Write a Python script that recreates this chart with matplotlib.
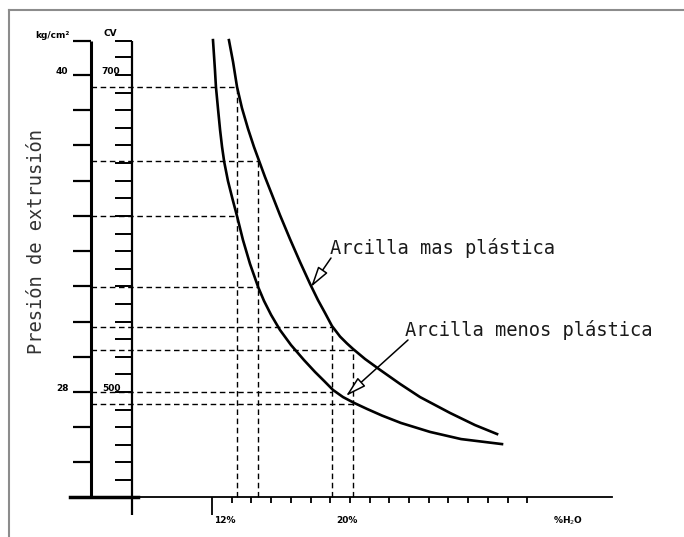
import numpy as np
import matplotlib
matplotlib.use("Agg")
import matplotlib.pyplot as plt
from matplotlib.lines import Line2D

# humidity (% H2O) and extrusion pressure (kg/cm2)
menos_x = [12.05, 12.10, 12.15, 12.20, 12.31, 12.41, 12.51, 12.62, 12.81, 13.04,
           13.27, 13.57, 13.93, 14.34, 14.64, 15.00, 15.45, 16.01, 16.67, 17.23,
           17.69, 18.14, 18.65, 19.21, 19.87, 20.63, 21.59, 23.07, 24.64, 26.72]
menos_y = [41.32, 40.76, 40.19, 39.55, 38.68, 37.92, 37.28, 36.71, 35.99, 35.31,
           34.66, 33.76, 32.85, 31.98, 31.45, 30.92, 30.35, 29.78, 29.21, 28.76,
           28.42, 28.08, 27.81, 27.59, 27.36, 27.11, 26.83, 26.49, 26.22, 26.03]

mas_x = [12.86, 13.07, 13.27, 13.52, 13.83, 14.13, 14.39, 14.69, 15.05, 15.45,
         15.96, 16.47, 16.98, 17.38, 17.74, 18.09, 18.50, 18.85, 19.16, 19.77,
         20.53, 21.54, 22.56, 24.08, 25.35, 26.47]
mas_y = [41.32, 40.49, 39.55, 38.75, 37.96, 37.28, 36.75, 36.14, 35.46, 34.70,
         33.79, 32.92, 32.09, 31.48, 30.99, 30.50, 30.10, 29.84, 29.63, 29.25,
         28.84, 28.31, 27.81, 27.21, 26.75, 26.41]

# dashed reading lines
guide_x = [13.27, 14.36, 18.09, 19.15]
guide_mas = [39.55, 36.76, 30.48, 29.61]
guide_menos = [34.66, 31.98, 28.00, 27.55]

kg_labels = {40: "40", 28: "28"}
cv_labels = {40: "700", 28: "500"}
x_labels = ["12%", "20%", "%H$_2$O"]

# pixel -> data mapping of the drawing
W, H = 684, 537
PX_X0, X0, PX_PCT = 212, 12, 19.7
PX_Y0, Y0, PX_KG = 75, 40, 26.42
def dx(px): return X0 + (px - PX_X0) / PX_PCT
def dy(py): return Y0 - (py - PX_Y0) / PX_KG

fig = plt.figure(figsize=(W / 100, H / 100), dpi=100)
ax = fig.add_axes([0, 0, 1, 1])
ax.set_xlim(dx(0), dx(W))
ax.set_ylim(dy(H), dy(0))
ax.axis("off")

mono = "DejaVu Sans Mono"
ink = "#1a1a1a"
ybot = dy(497)
ytop = dy(41)
kg_x, cv_x = dx(91), dx(132)

# kg/cm2 axis
ax.plot([kg_x, kg_x], [ybot, ytop], color="k", lw=2.2, solid_capstyle="butt")
kg_ticks = 24 + np.arange(1, 13) * 4 / 3
ax.hlines(list(kg_ticks) + [ytop], dx(73), kg_x, color="k", lw=1.6)
# CV axis
ax.plot([cv_x, cv_x], [dy(515), ytop], color="k", lw=1.6, solid_capstyle="butt")
cv_ticks = 24 + np.arange(1, 26) * 2 / 3
ax.hlines(list(cv_ticks) + [ytop], dx(115), cv_x, color="k", lw=1.4)

# x axis
ax.plot([dx(70), dx(612)], [ybot, ybot], color="k", lw=1.3)
ax.plot([dx(70), dx(138)], [ybot, ybot], color="k", lw=2.5)
xt = np.arange(13, 29)
ax.vlines(xt, dy(503), ybot, color="k", lw=1.3)
ax.vlines([12], dy(515), ybot, color="k", lw=1.3)

# dashed guides
ds = (0, (4, 2.6))
for gx, gm, gn in zip(guide_x, guide_mas, guide_menos):
    ax.plot([gx, gx], [ybot, gm], color="k", lw=1.0, ls=ds)
    ax.plot([kg_x, gx], [gm, gm], color="k", lw=1.0, ls=ds)
    ax.plot([kg_x, gx], [gn, gn], color="k", lw=1.0, ls=ds)

# curves
ax.plot(menos_x, menos_y, color="k", lw=1.9, solid_joinstyle="round")
ax.plot(mas_x, mas_y, color="k", lw=1.9, solid_joinstyle="round")

# annotations
ap = dict(arrowstyle="-|>,head_length=0.9,head_width=0.25", fc="white", ec="k",
          lw=1.1, mutation_scale=14, shrinkA=0, shrinkB=0)
ax.annotate("", xy=(dx(311), dy(287)), xytext=(dx(331), dy(258)), arrowprops=ap)
ax.annotate("", xy=(dx(346), dy(396)), xytext=(dx(408), dy(340)), arrowprops=ap)
ax.text(dx(330), dy(248), "Arcilla mas plástica", family=mono, fontsize=13.5,
        color=ink, va="center", ha="left")
ax.text(dx(405), dy(330), "Arcilla menos plástica", family=mono, fontsize=13.5,
        color=ink, va="center", ha="left")
ax.text(dx(36), dy(242), "Presión de extrusión", family=mono, fontsize=13.5,
        color="#333333", rotation=90, va="center", ha="center")

# axis labels
small = dict(fontsize=6.5, fontweight="bold", va="center", ha="center", color="k")
ax.text(dx(52), dy(35), "kg/cm²", **small)
ax.text(dx(110), dy(34), "CV", **small)
for v, s in kg_labels.items():
    ax.text(dx(62), v + 4 / PX_KG, s, **small)
for v, s in cv_labels.items():
    ax.text(dx(111), v + 4 / PX_KG, s, **small)
ax.text(dx(225), dy(520), x_labels[0], **small)
ax.text(dx(347), dy(520), x_labels[1], **small)
ax.text(dx(568), dy(521), x_labels[2], **small)

# scan frame
fc = "#8c8c8c"
fig.add_artist(Line2D([9 / W, 9 / W], [0, 1 - 10 / H], color=fc, lw=1.5))
fig.add_artist(Line2D([9 / W, 1], [1 - 10 / H, 1 - 10 / H], color=fc, lw=1.5))

fig.savefig("out.png", dpi=100)
